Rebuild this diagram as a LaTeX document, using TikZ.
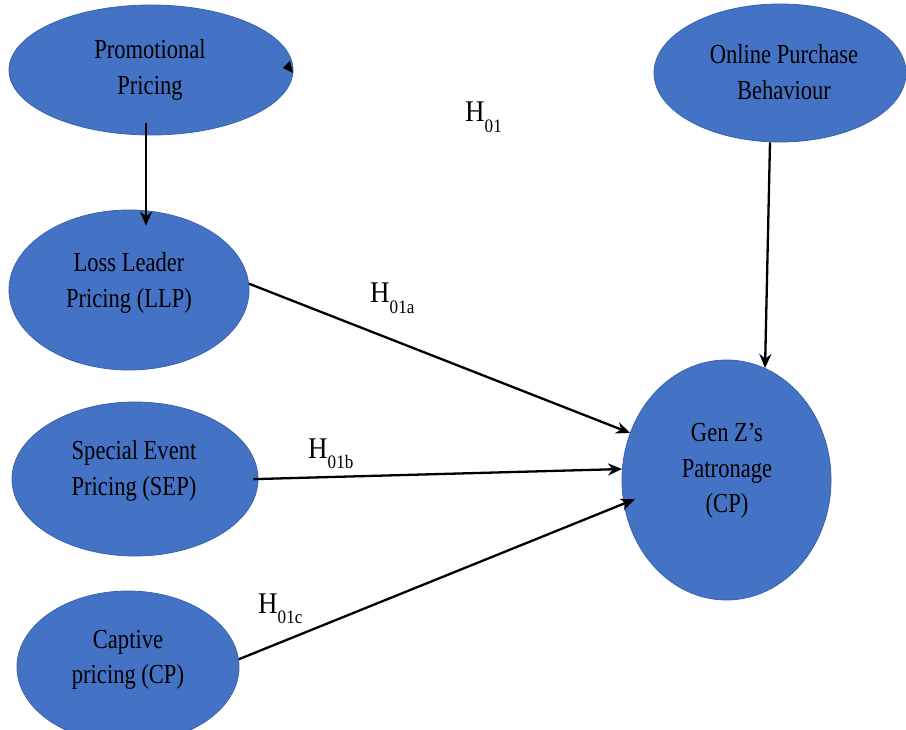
\documentclass[tikz,border=0pt]{standalone}
\usepackage{fontspec}
\setmainfont[FakeStretch=0.82]{Liberation Serif}
\newfontfamily\labfont[FakeStretch=0.9]{Liberation Serif}
\usetikzlibrary{shapes.geometric,arrows.meta}
\definecolor{nodeblue}{HTML}{4472C4}
\definecolor{edgeblue}{HTML}{3A63AE}
\newcommand{\hsub}[1]{H\raisebox{-10.5pt}{\fontsize{19}{19}\selectfont #1}}
\begin{document}
\begin{tikzpicture}[x=1pt,y=-1pt,
  oval/.style={ellipse, fill=nodeblue, draw=edgeblue, line width=0.8pt, inner sep=0pt},
  txt/.style={align=center, font=\fontsize{27.5}{35.5}\selectfont, inner sep=0pt},
  arr/.style={line width=2.3pt, -{Stealth[length=14pt,width=12pt]}},
  hyp/.style={anchor=base west, inner sep=0pt, font=\labfont\fontsize{30}{30}\selectfont}]
\useasboundingbox (0,0) rectangle (906,730);
\clip (0,0) rectangle (906,730);
% ellipses
\node[oval, minimum width=284pt, minimum height=130pt] (promo) at (151,70) {};
\node[oval, minimum width=240pt, minimum height=160pt] (llp) at (129,290) {};
\node[oval, minimum width=246pt, minimum height=154pt] (sep) at (135,479) {};
\node[oval, minimum width=222pt, minimum height=152pt] (cp) at (128,667) {};
\node[oval, minimum width=252pt, minimum height=138pt] (opb) at (780,73) {};
\node[oval, minimum width=209pt, minimum height=240pt] (genz) at (726.5,480) {};
% texts
\node[txt] (promoT) at (150,70) {Promotional\\Pricing};
\node[txt] (llpT) at (129,283) {Loss Leader\\Pricing (LLP)};
\node[txt] (sepT) at (134,471) {Special Event\\Pricing (SEP)};
\node[txt] (cpT) at (128,660) {Captive\\pricing (CP)};
\node[txt] (opbT) at (784,72) {Online Purchase\\Behaviour};
\node[txt] (genzT) at (727,471) {Gen Z’s\\Patronage\\(CP)};
% stray arrowhead on Promotional Pricing
\fill (283,68) -- (290,61) -- (293,73) -- cycle;
% connectors
\draw[arr] ([xshift=-5pt,yshift=12pt]promo.south) -- ([xshift=17pt,yshift=-16pt]llp.north);
\draw[arr] ([xshift=-10pt]opb.south) -- (genz.71);
\draw[arr] (llp.3) -- (genz.154);
\draw[arr, shorten <=-5pt] (sep.east) -- (genz.174);
\draw[arr, shorten >=-12pt] (cp.4) -- (genz.193.6);
% hypothesis labels
\node[hyp] (h01) at (465,122) {\hsub{01}};
\node[hyp] (h01a) at (370,303) {\hsub{01a}};
\node[hyp] (h01b) at (308,458) {\hsub{01b}};
\node[hyp] (h01c) at (258,613) {\hsub{01c}};
\end{tikzpicture}
\end{document}
